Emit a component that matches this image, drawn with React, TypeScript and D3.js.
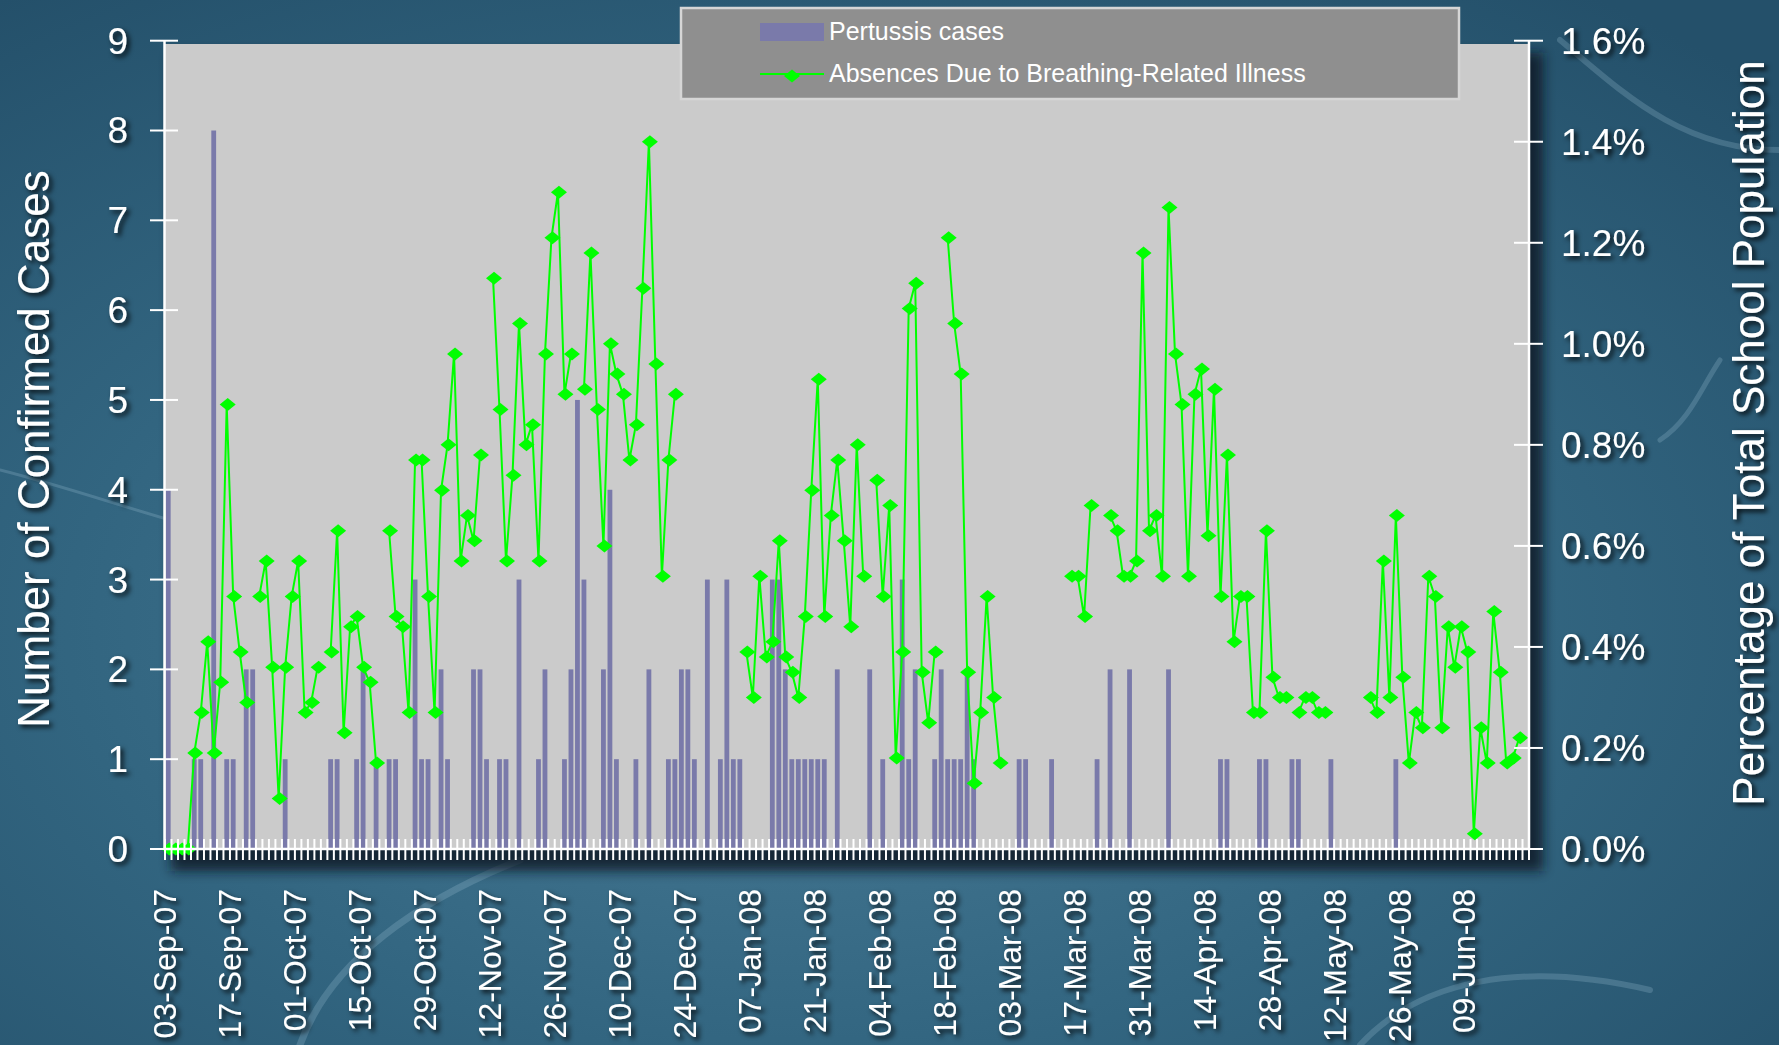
import React from "react";
import * as d3 from "d3";

const W = 1779;
const H = 1045;

// weekday categories, 03-Sep-07 .. 20-Jun-08
const firstDay = new Date(2007, 8, 3);
const lastDay = new Date(2008, 5, 21);

// confirmed pertussis cases per school day (rows of 10 days)
const caseCounts = [
  4, 0, 0, 0, 1, 1, 0, 8, 0, 1,
  1, 0, 2, 2, 0, 0, 0, 0, 1, 0,
  0, 0, 0, 0, 0, 1, 1, 0, 0, 1,
  2, 0, 1, 0, 1, 1, 0, 0, 3, 1,
  1, 0, 2, 1, 0, 0, 0, 2, 2, 1,
  0, 1, 1, 0, 3, 0, 0, 1, 2, 0,
  0, 1, 2, 5, 3, 0, 0, 2, 4, 1,
  0, 0, 1, 0, 2, 0, 0, 1, 1, 2,
  2, 1, 0, 3, 0, 1, 3, 1, 1, 0,
  0, 0, 0, 3, 3, 2, 1, 1, 1, 1,
  1, 1, 0, 2, 0, 0, 0, 0, 2, 0,
  1, 0, 0, 3, 1, 2, 0, 0, 1, 2,
  1, 1, 1, 2, 1, 0, 0, 0, 0, 0,
  0, 1, 1, 0, 0, 0, 1, 0, 0, 0,
  0, 0, 0, 1, 0, 2, 0, 0, 2, 0,
  0, 0, 0, 0, 2, 0, 0, 0, 0, 0,
  0, 0, 1, 1, 0, 0, 0, 0, 1, 1,
  0, 0, 0, 1, 1, 0, 0, 0, 0, 1,
  0, 0, 0, 0, 0, 0, 0, 0, 0, 1,
  0, 0, 0, 0, 0, 0, 0, 0, 0, 0,
  0, 0, 0, 0, 0, 0, 0, 0, 0, 0,
];

// absences due to breathing-related illness, % of school population (null = no data)
const N = null;
const absencePct: (number | null)[] = [
  0, 0, 0, 0, 0.19, 0.27, 0.41, 0.19, 0.33, 0.88,
  0.5, 0.39, 0.29, N, 0.5, 0.57, 0.36, 0.1, 0.36, 0.5,
  0.57, 0.27, 0.29, 0.36, N, 0.39, 0.63, 0.23, 0.44, 0.46,
  0.36, 0.33, 0.17, N, 0.63, 0.46, 0.44, 0.27, 0.77, 0.77,
  0.5, 0.27, 0.71, 0.8, 0.98, 0.57, 0.66, 0.61, 0.78, N,
  1.13, 0.87, 0.57, 0.74, 1.04, 0.8, 0.84, 0.57, 0.98, 1.21,
  1.3, 0.9, 0.98, N, 0.91, 1.18, 0.87, 0.6, 1.0, 0.94,
  0.9, 0.77, 0.84, 1.11, 1.4, 0.96, 0.54, 0.77, 0.9, N,
  N, N, N, N, N, N, N, N, N, 0.39,
  0.3, 0.54, 0.38, 0.41, 0.61, 0.38, 0.35, 0.3, 0.46, 0.71,
  0.93, 0.46, 0.66, 0.77, 0.61, 0.44, 0.8, 0.54, N, 0.73,
  0.5, 0.68, 0.18, 0.39, 1.07, 1.12, 0.35, 0.25, 0.39, N,
  1.21, 1.04, 0.94, 0.35, 0.13, 0.27, 0.5, 0.3, 0.17, N,
  N, N, N, N, N, N, N, N, N, 0.54,
  0.54, 0.46, 0.68, N, N, 0.66, 0.63, 0.54, 0.54, 0.57,
  1.18, 0.63, 0.66, 0.54, 1.27, 0.98, 0.88, 0.54, 0.9, 0.95,
  0.62, 0.91, 0.5, 0.78, 0.41, 0.5, 0.5, 0.27, 0.27, 0.63,
  0.34, 0.3, 0.3, N, 0.27, 0.3, 0.3, 0.27, 0.27, N,
  N, N, N, N, N, 0.3, 0.27, 0.57, 0.3, 0.66,
  0.34, 0.17, 0.27, 0.24, 0.54, 0.5, 0.24, 0.44, 0.36, 0.44,
  0.39, 0.03, 0.24, 0.17, 0.47, 0.35, 0.17, 0.18, 0.22, N,
];

const caseTicks = [0, 1, 2, 3, 4, 5, 6, 7, 8, 9];
const pctTicks = [0, 0.2, 0.4, 0.6, 0.8, 1.0, 1.2, 1.4, 1.6];
const labelEvery = 10;

const barColor = "#7a7aaa";
const lineColor = "#00ff00";
const font = "'Liberation Sans', Arial, sans-serif";

const plot = { left: 165, right: 1529, top: 40.7, bottom: 849 };

const days = d3.timeDay
  .range(firstDay, lastDay)
  .filter((d) => d.getDay() !== 0 && d.getDay() !== 6);

export default function App() {
  const x = d3
    .scaleBand<number>()
    .domain(days.map((_, i) => i))
    .range([plot.left, plot.right])
    .paddingInner(0)
    .paddingOuter(0);
  const bw = x.bandwidth();
  const xc = (i: number) => (x(i) as number) + bw / 2;

  const yL = d3.scaleLinear().domain([0, 9]).range([plot.bottom, plot.top]);
  const yR = d3.scaleLinear().domain([0, 1.6]).range([plot.bottom, plot.top]);

  const line = d3
    .line<number | null>()
    .defined((d) => d != null)
    .x((_, i) => xc(i))
    .y((d) => yR(d as number));

  const fmt = d3.timeFormat("%d-%b-%y");
  const diamond = "M-8,0 L0,-6.5 L8,0 L0,6.5 Z";
  const barW = bw * 0.74;

  return (
    <div style={{ position: "absolute", left: 0, top: 0 }}>
      <svg width={W} height={H} style={{ display: "block" }}>
        <defs>
          <radialGradient id="bg" cx="45%" cy="60%" r="75%">
            <stop offset="0%" stopColor="#4a7d98" />
            <stop offset="55%" stopColor="#326580" />
            <stop offset="100%" stopColor="#24506a" />
          </radialGradient>
          <filter id="txtShadow" x="-20%" y="-20%" width="140%" height="140%">
            <feDropShadow dx="3" dy="3" stdDeviation="2.5" floodColor="#000" floodOpacity="0.85" />
          </filter>
          <filter id="boxShadow" x="-5%" y="-5%" width="110%" height="115%">
            <feGaussianBlur stdDeviation="6" />
          </filter>
        </defs>

        <rect x={0} y={0} width={W} height={H} fill="url(#bg)" />
        {/* decorative swooshes */}
        <g fill="none" stroke="#9fc3d6" strokeLinecap="round" opacity={0.25}>
          <path d="M1560,40 C1620,90 1680,150 1779,150" strokeWidth={6} />
          <path d="M1720,360 C1700,390 1690,420 1660,440" strokeWidth={5} />
          <path d="M300,1045 C330,960 420,900 520,860" strokeWidth={7} />
          <path d="M1360,1045 C1420,980 1520,960 1650,990" strokeWidth={6} />
          <path d="M0,470 C120,500 260,560 420,570" strokeWidth={3} />
        </g>

        {/* plot shadow + area */}
        <rect
          x={plot.left + 6}
          y={plot.top + 12}
          width={plot.right - plot.left + 8}
          height={plot.bottom - plot.top + 10}
          fill="#0c1820"
          opacity={0.8}
          filter="url(#boxShadow)"
        />
        <rect
          x={plot.left}
          y={44}
          width={plot.right - plot.left}
          height={plot.bottom - 44}
          fill="#cbcbcb"
        />

        {/* bars */}
        {caseCounts.map((v, i) =>
          v > 0 ? (
            <rect
              key={"b" + i}
              x={xc(i) - barW / 2}
              y={yL(v)}
              width={barW}
              height={yL(0) - yL(v)}
              fill={barColor}
            />
          ) : null
        )}

        {/* absences line */}
        <path d={line(absencePct) || ""} fill="none" stroke={lineColor} strokeWidth={2} />
        {absencePct.map((v, i) =>
          v == null ? null : (
            <path
              key={"m" + i}
              d={diamond}
              transform={`translate(${xc(i) + 1},${yR(v)})`}
              fill={lineColor}
            />
          )
        )}

        {/* axes */}
        <g stroke="#fff" strokeWidth={2.5}>
          <line x1={plot.left - 0.5} x2={plot.left - 0.5} y1={plot.top} y2={plot.bottom + 1} />
          <line x1={plot.right} x2={plot.right} y1={plot.top} y2={plot.bottom + 1} />
          <line x1={plot.left} x2={plot.right} y1={plot.bottom} y2={plot.bottom} />
        </g>
        <g stroke="#fff" strokeWidth={2}>
          {caseTicks.map((t) => (
            <line key={"lt" + t} x1={150} x2={178} y1={yL(t)} y2={yL(t)} />
          ))}
          {pctTicks.map((t) => (
            <line key={"rt" + t} x1={plot.right - 15} x2={plot.right + 14} y1={yR(t)} y2={yR(t)} />
          ))}
          {d3.range(days.length + 1).map((i) => {
            const xx = plot.left + i * bw;
            return <line key={"xt" + i} x1={xx} x2={xx} y1={plot.bottom - 10} y2={plot.bottom + 11} />;
          })}
        </g>

        {/* tick labels */}
        <g fill="#fff" fontFamily={font} filter="url(#txtShadow)">
          {caseTicks.map((t) => (
            <text key={"ll" + t} x={128} y={yL(t)} dy="0.35em" fontSize={37} textAnchor="end">
              {t}
            </text>
          ))}
          {pctTicks.map((t) => (
            <text key={"rl" + t} x={1561} y={yR(t)} dy="0.35em" fontSize={37} textAnchor="start">
              {t.toFixed(1) + "%"}
            </text>
          ))}
          {days.map((d, i) =>
            i % labelEvery === 0 ? (
              <text
                key={"xl" + i}
                transform={`translate(${xc(i) - 3},889) rotate(-90)`}
                dy="0.35em"
                fontSize={32}
                textAnchor="end"
              >
                {fmt(d)}
              </text>
            ) : null
          )}
          <text
            transform="translate(49,449) rotate(-90)"
            fontSize={44}
            textAnchor="middle"
          >
            Number of Confirmed Cases
          </text>
          <text
            transform="translate(1764,433) rotate(-90)"
            fontSize={44}
            textAnchor="middle"
          >
            Percentage of Total School Population
          </text>
        </g>

        {/* legend */}
        <g fontFamily={font}>
          <rect x={681} y={8} width={778} height={91} fill="#8f8f8f" stroke="#d6d6d6" strokeWidth={2.5} />
          <rect x={760} y={23} width={64} height={18} fill={barColor} />
          <text x={829} y={40} fontSize={25} fill="#fff">
            Pertussis cases
          </text>
          <line x1={760} x2={824} y1={74} y2={74} stroke={lineColor} strokeWidth={2} />
          <path d={diamond} transform="translate(792,76)" fill={lineColor} />
          <text x={829} y={82} fontSize={25} fill="#fff">
            Absences Due to Breathing-Related Illness
          </text>
        </g>
      </svg>
    </div>
  );
}
